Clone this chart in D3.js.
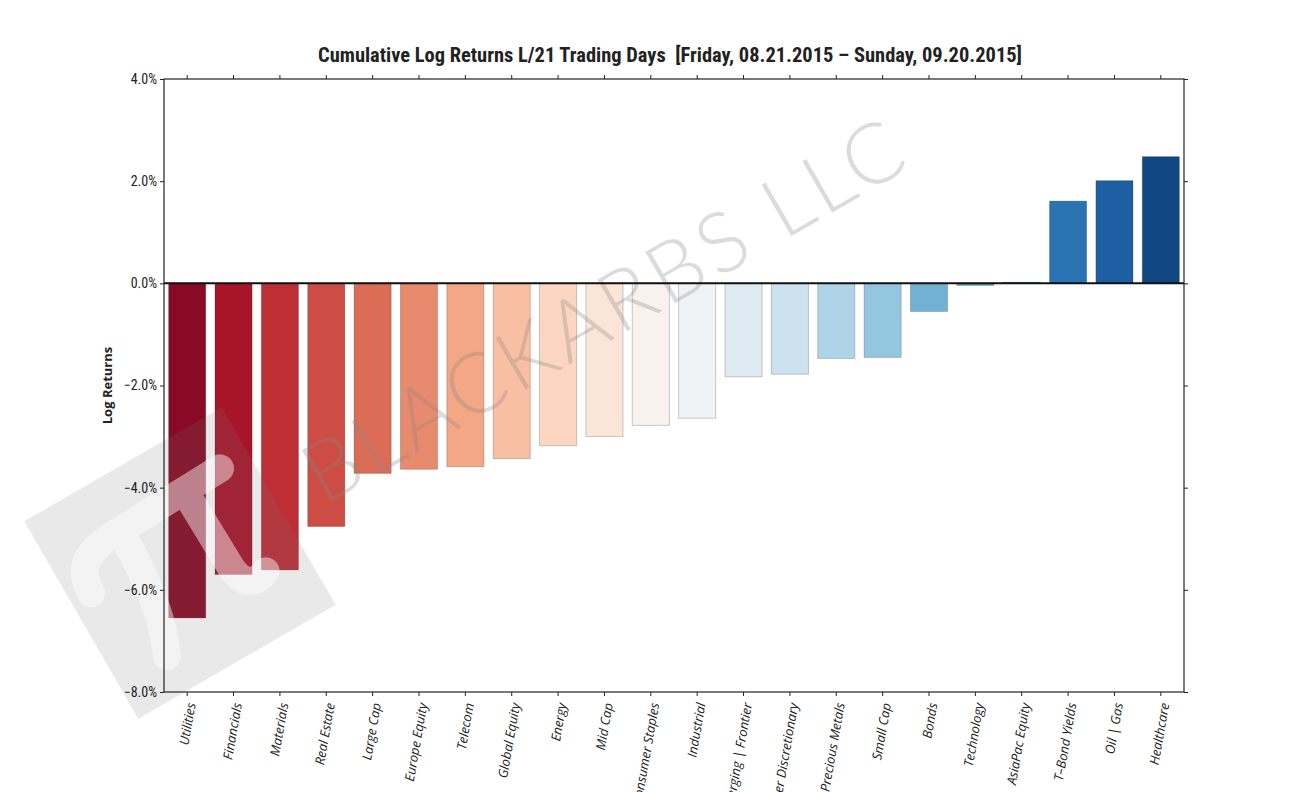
<!DOCTYPE html>
<html>
<head>
<meta charset="utf-8">
<script src="https://cdn.jsdelivr.net/npm/d3@7"></script>
<style>
  body { margin: 0; background: #fff; }
  svg { display: block; }
</style>
</head>
<body>
<div id="chart"></div>
<script>
// sectors, sorted by 21-day cumulative log return (%)
const categories = ['Utilities', 'Financials', 'Materials', 'Real Estate', 'Large Cap',
  'Europe Equity', 'Telecom', 'Global Equity', 'Energy', 'Mid Cap', 'Consumer Staples',
  'Industrial', 'Emerging | Frontier', 'Consumer Discretionary', 'Precious Metals',
  'Small Cap', 'Bonds', 'Technology', 'AsiaPac Equity', 'T–Bond Yields', 'Oil | Gas',
  'Healthcare'];
const returns = [-6.55, -5.70, -5.61, -4.76, -3.72, -3.64, -3.59, -3.43, -3.18, -3.00,
  -2.78, -2.64, -1.83, -1.78, -1.47, -1.45, -0.55, -0.04, 0.02, 1.61, 2.01, 2.48];
const yTicks = [-8, -6, -4, -2, 0, 2, 4];
const title = 'Cumulative Log Returns L/21 Trading Days  [Friday, 08.21.2015 – Sunday, 09.20.2015]';

// matplotlib RdBu anchors
const rdbu = ['#67001f', '#b2182b', '#d6604d', '#f4a582', '#fddbc7', '#f7f7f7',
  '#d1e5f0', '#92c5de', '#4393c3', '#2166ac', '#053061'];

const width = 1314, height = 792;
const margin = { top: 79, right: 130, bottom: 100, left: 164 };
const x0 = margin.left, x1 = width - margin.right;
const y0 = margin.top, y1 = height - margin.bottom;

const svg = d3.select('#chart').append('svg')
  .attr('width', width)
  .attr('height', height);

const x = d3.scaleBand()
  .domain(categories)
  .range([x0, x1])
  .paddingInner(0.2)
  .paddingOuter(0.1);

const y = d3.scaleLinear()
  .domain([-8, 4])
  .range([y1, y0]);

const cmap = d3.scaleLinear()
  .domain(d3.range(rdbu.length).map(i => i / (rdbu.length - 1)))
  .range(rdbu)
  .interpolate(d3.interpolateRgb);
const colorAt = i => cmap((i + 1) / (categories.length + 1));

// bars
svg.append('g')
  .selectAll('rect')
  .data(returns)
  .enter()
  .append('rect')
  .attr('x', (d, i) => x(categories[i]))
  .attr('width', x.bandwidth())
  .attr('y', d => y(Math.max(0, d)))
  .attr('height', d => Math.max(0.6, Math.abs(y(d) - y(0))))
  .attr('fill', (d, i) => colorAt(i))
  .attr('stroke', 'rgba(0,0,0,0.2)')
  .attr('stroke-width', 1);

// watermark: pi badge
const badge = svg.append('g')
  .attr('transform', 'translate(180,563) rotate(-30)');
badge.append('rect')
  .attr('x', -114).attr('y', -114)
  .attr('width', 228).attr('height', 228)
  .attr('fill', '#777')
  .attr('fill-opacity', 0.16);
badge.append('path')
  .attr('d', 'M-92,-18 C-92,-48 -72,-58 -40,-58 L82,-62 ' +
             'M-36,-56 C-36,0 -44,45 -58,74 ' +
             'M40,-58 L42,30 C44,52 56,56 70,50')
  .attr('fill', 'none')
  .attr('stroke', '#fff')
  .attr('stroke-opacity', 0.45)
  .attr('stroke-width', 28)
  .attr('stroke-linecap', 'round')
  .attr('stroke-linejoin', 'round');

// watermark: company name
svg.append('text')
  .attr('transform', 'translate(324,506) rotate(-30)')
  .attr('font-family', '"Lato", sans-serif')
  .attr('font-weight', 300)
  .attr('font-size', 84)
  .attr('textLength', 678)
  .attr('fill', '#888')
  .attr('fill-opacity', 0.3)
  .text('BLACKARBS LLC');

// zero line
svg.append('line')
  .attr('x1', x0).attr('x2', x1)
  .attr('y1', y(0)).attr('y2', y(0))
  .attr('stroke', '#111')
  .attr('stroke-width', 2);

// frame
svg.append('rect')
  .attr('x', x0).attr('y', y0)
  .attr('width', x1 - x0).attr('height', y1 - y0)
  .attr('fill', 'none')
  .attr('stroke', '#222')
  .attr('stroke-width', 1.2);

const tickFmt = v => d3.format('.1f')(v) + '%';

// y axes (left with labels, right ticks only)
const yLeft = svg.append('g')
  .attr('transform', `translate(${x0},0)`)
  .call(d3.axisLeft(y).tickValues(yTicks).tickFormat(tickFmt).tickSize(4).tickPadding(3));
const yRight = svg.append('g')
  .attr('transform', `translate(${x1},0)`)
  .call(d3.axisRight(y).tickValues(yTicks).tickFormat('').tickSize(4));

// x axes (bottom with labels, top ticks only)
const xBottom = svg.append('g')
  .attr('transform', `translate(0,${y1})`)
  .call(d3.axisBottom(x).tickSize(4).tickPadding(6));
const xTop = svg.append('g')
  .attr('transform', `translate(0,${y0})`)
  .call(d3.axisTop(x).tickSize(4).tickFormat(''));

[yLeft, yRight, xBottom, xTop].forEach(g => {
  g.select('.domain').remove();
  g.selectAll('.tick line').attr('stroke', '#222');
});

yLeft.selectAll('text')
  .attr('font-family', '"Roboto Condensed", "Liberation Sans Narrow", sans-serif')
  .attr('font-stretch', 'condensed')
  .attr('font-size', 14)
  .attr('fill', '#222');

xBottom.selectAll('.tick text')
  .attr('font-family', '"Open Sans", sans-serif')
  .attr('font-style', 'italic')
  .attr('font-size', 13)
  .attr('fill', '#222')
  .attr('text-anchor', 'end')
  .attr('dy', '0.35em')
  .attr('transform', 'translate(4,11) rotate(-80)')
  .attr('y', 0);

// title and axis label
svg.append('text')
  .attr('x', 670)
  .attr('y', 62)
  .attr('text-anchor', 'middle')
  .attr('font-family', '"Roboto Condensed", "Liberation Sans Narrow", "Roboto", sans-serif')
  .attr('font-weight', 'bold')
  .attr('font-size', 20)
  .attr('textLength', 704)
  .attr('lengthAdjust', 'spacingAndGlyphs')
  .attr('fill', '#222')
  .style('white-space', 'pre')
  .text(title);

svg.append('text')
  .attr('transform', `translate(112,${(y0 + y1) / 2}) rotate(-90)`)
  .attr('text-anchor', 'middle')
  .attr('font-family', '"Open Sans", sans-serif')
  .attr('font-weight', 'bold')
  .attr('font-size', 13)
  .attr('fill', '#222')
  .text('Log Returns');
</script>
</body>
</html>
